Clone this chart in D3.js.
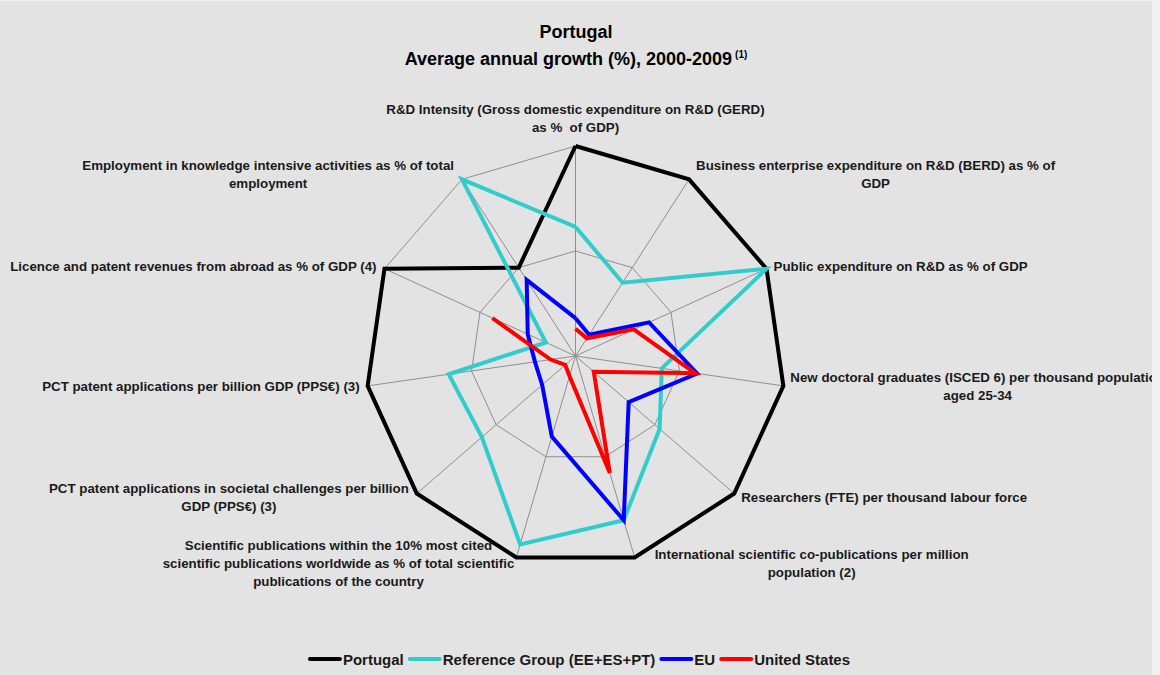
<!DOCTYPE html>
<html>
<head>
<meta charset="utf-8">
<script src="https://cdn.jsdelivr.net/npm/d3@7"></script>
<style>
  html, body { margin: 0; padding: 0; background: #f0f0f0; }
  svg { display: block; font-family: "Liberation Sans", Arial, sans-serif; }
  text { white-space: pre; }
</style>
</head>
<body>
<svg id="chart"></svg>
<script>
// Category labels (one entry per axis, split into lines as in the original)
const categories = [
  ["R&D Intensity (Gross domestic expenditure on R&D (GERD)", "as %  of GDP)"],
  ["Business enterprise expenditure on R&D (BERD) as % of", "GDP"],
  ["Public expenditure on R&D as % of GDP"],
  ["New doctoral graduates (ISCED 6) per thousand population", "aged 25-34"],
  ["Researchers (FTE) per thousand labour force"],
  ["International scientific co-publications per million", "population (2)"],
  ["Scientific publications within the 10% most cited", "scientific publications worldwide as % of total scientific", "publications of the country"],
  ["PCT patent applications in societal challenges per billion", "GDP (PPS€) (3)"],
  ["PCT patent applications per billion GDP (PPS€) (3)"],
  ["Licence and patent revenues from abroad as % of GDP (4)"],
  ["Employment in knowledge intensive activities as % of total", "employment"]
];

const seriesNames = ["Portugal", "Reference Group (EE+ES+PT)", "EU", "United States"];

// Average annual growth (%) (capped at axis max)
const portugal = [10, 10, 10, 10, 10, 10, 10, 10, 10, 10, 0];
const refGroup = [2.3, -1.7, 10, -1.7, 0.6, 6.3, 8.7, 1.8, 2.2, -6.9, 10];
const eu       = [-6.4, -7.6, -2.3, 1.7, -3.3, 6.3, -2.0, -5.8, -6.1, -5.0, -1.4];
const us       = [-7.4, -8.0, -3.9, 1.5, -7.7, 1.6, -8.0, -8.7, -7.6, -1.3, null];

const ringTicks = [0, 10];
const axisMin = -10, axisMax = 10;

// Colours
const COLORS = ["#000000", "#33cccc", "#0000ff", "#ff0000"];
const GRID_COLOR = "#8f8f8f";
const BG_COLOR = "#e3e3e3";

const width = 1160, height = 675;
const plotWidth = 1152;
const cx = 575.5, cy = 356, radius = 210;
const n = categories.length;
const LABEL_DX = [0, 0, 0, 0, 0, 13, 6, 0, 0, 0, 0];

const svg = d3.select("#chart").attr("width", width).attr("height", height);

svg.append("rect")
  .attr("x", 0).attr("y", 1)
  .attr("width", plotWidth).attr("height", height - 1)
  .attr("fill", BG_COLOR);

svg.append("clipPath").attr("id", "plotClip")
  .append("rect").attr("x", 0).attr("y", 0).attr("width", plotWidth).attr("height", height);

const root = svg.append("g").attr("clip-path", "url(#plotClip)");

// Title
const title = root.append("text")
  .attr("x", 576).attr("text-anchor", "middle")
  .attr("font-weight", "bold").attr("font-size", 18).attr("fill", "#000");
title.append("tspan").attr("x", 576).attr("y", 38).text("Portugal");
const sub = title.append("tspan").attr("x", 576).attr("y", 65);
sub.append("tspan").text("Average annual growth (%), 2000-2009");
sub.append("tspan").attr("font-size", 10).attr("dy", -7).attr("dx", 3).text("(1)");

// Scales
const r = d3.scaleLinear().domain([axisMin, axisMax]).range([0, radius]);
const angle = i => i * 2 * Math.PI / n;
const px = (i, v) => cx + Math.sin(angle(i)) * r(v);
const py = (i, v) => cy - Math.cos(angle(i)) * r(v);

const plot = root.append("g").attr("transform", `translate(${cx},${cy})`);

// Grid: spokes and rings
plot.selectAll(".spoke")
  .data(d3.range(n))
  .join("line")
  .attr("class", "spoke")
  .attr("x1", 0).attr("y1", 0)
  .attr("x2", i => Math.sin(angle(i)) * r(axisMax))
  .attr("y2", i => -Math.cos(angle(i)) * r(axisMax))
  .attr("stroke", GRID_COLOR).attr("stroke-width", 1);

const ringLine = d3.lineRadial()
  .angle((d, i) => angle(i))
  .radius(d => r(d))
  .curve(d3.curveLinearClosed);

plot.selectAll(".ring")
  .data(ringTicks)
  .join("path")
  .attr("class", "ring")
  .attr("d", t => ringLine(d3.range(n).map(() => t)))
  .attr("fill", "none")
  .attr("stroke", GRID_COLOR).attr("stroke-width", 1);

// Series lines (closing back to the first axis; gaps where data is missing)
const seriesLine = d3.lineRadial()
  .defined(d => d != null)
  .angle((d, i) => angle(i))
  .radius(d => r(d))
  .curve(d3.curveLinear);

const allSeries = [portugal, refGroup, eu, us];

plot.selectAll(".series")
  .data(allSeries)
  .join("path")
  .attr("class", "series")
  .attr("d", vals => seriesLine(vals.concat([vals[0]])))
  .attr("fill", "none")
  .attr("stroke", (d, i) => COLORS[i])
  .attr("stroke-width", 4)
  .attr("stroke-linejoin", "miter")
  .attr("stroke-linecap", "butt");

// Category labels
const LINE_H = 18;
categories.forEach((lines, i) => {
  const ex = px(i, axisMax), ey = py(i, axisMax);
  const sx = Math.sin(angle(i)), sy = -Math.cos(angle(i));
  const g = root.append("g");
  const t = g.append("text")
    .attr("font-weight", "bold").attr("font-size", 13.3)
    .attr("fill", "#1a1a1a").attr("text-anchor", "middle");
  lines.forEach((ln, k) => t.append("tspan").attr("x", 0).attr("y", k * LINE_H).text(ln));
  let w = 0;
  t.selectAll("tspan").each(function() { w = Math.max(w, this.getComputedTextLength()); });
  const h = lines.length * LINE_H;
  let centerX, centerY;
  if (Math.abs(sx) < 0.05) {
    centerX = ex;
    centerY = ey - 10 - h / 2;
  } else if (sx > 0) {
    centerX = ex + 7 + LABEL_DX[i] + w / 2;
    centerY = ey + 6 * sy;
  } else {
    centerX = ex - 8 + LABEL_DX[i] - w / 2;
    centerY = ey + 6 * sy;
  }
  const firstY = centerY - h / 2 + LINE_H / 2 + 4.5;
  t.attr("transform", `translate(${centerX},${firstY})`);
});

// Legend
const legend = root.append("g");
let lx = 0;
const legendY = 659;
seriesNames.forEach((name, i) => {
  legend.append("line")
    .attr("x1", lx + 2).attr("x2", lx + 32)
    .attr("y1", legendY).attr("y2", legendY)
    .attr("stroke", COLORS[i]).attr("stroke-width", 4)
    .attr("stroke-linecap", "round");
  const tx = legend.append("text")
    .attr("x", lx + 35).attr("y", legendY + 5.5)
    .attr("font-weight", "bold").attr("font-size", 15)
    .attr("fill", "#1a1a1a").text(name);
  lx += 35 + tx.node().getComputedTextLength() + 4;
});
const legendW = lx - 4;
legend.attr("transform", `translate(${579 - legendW / 2},0)`);
</script>
</body>
</html>
